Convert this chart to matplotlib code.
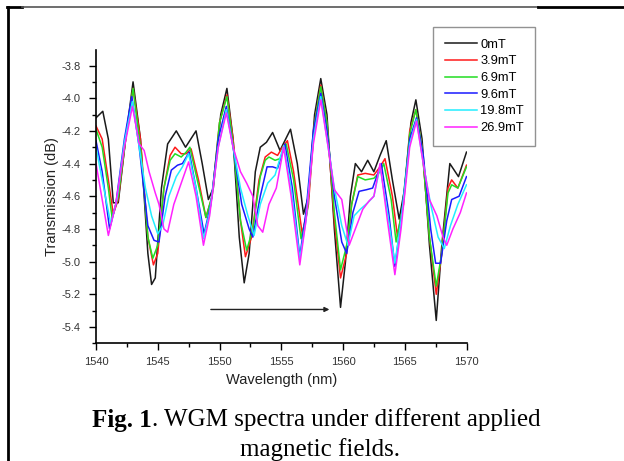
import numpy as np
import matplotlib.pyplot as plt
from matplotlib.lines import Line2D

# WGM spectra (wavelength in nm, transmission in dB)
wl_0 = [1540.0, 1540.55, 1541.0, 1541.4, 1541.8, 1542.4, 1543.0, 1543.6, 1544.2,
        1544.5, 1544.8, 1545.3, 1545.8, 1546.5, 1547.25, 1548.1, 1548.6, 1549.1,
        1549.5, 1550.1, 1550.6, 1551.1, 1551.6, 1552.0, 1552.4, 1552.9, 1553.3,
        1553.8, 1554.3, 1554.9, 1555.75, 1556.3, 1556.8, 1557.2, 1557.7, 1558.2,
        1558.7, 1559.3, 1559.8, 1560.2, 1560.6, 1561.0, 1561.5, 1562.0, 1562.5,
        1563.0, 1563.5, 1564.0, 1564.55, 1565.0, 1565.5, 1565.9, 1566.4, 1567.0,
        1567.55, 1568.0, 1568.65, 1569.35, 1570.0]
tr_0 = [-4.12, -4.08, -4.25, -4.64, -4.64, -4.25, -3.90, -4.25, -4.95,
        -5.14, -5.10, -4.55, -4.28, -4.20, -4.30, -4.20, -4.40, -4.62,
        -4.55, -4.10, -3.94, -4.25, -4.85, -5.13, -4.95, -4.45, -4.30,
        -4.27, -4.21, -4.32, -4.19, -4.40, -4.71, -4.60, -4.10, -3.88,
        -4.10, -4.80, -5.28, -5.00, -4.60, -4.40, -4.45, -4.38, -4.45,
        -4.35, -4.26, -4.50, -4.74, -4.55, -4.15, -4.01, -4.25, -4.90,
        -5.36, -4.90, -4.40, -4.48, -4.33]

wl_39 = [1540.0, 1540.5, 1541.0, 1541.4, 1541.8, 1542.4, 1543.0, 1543.6, 1544.2,
         1544.65, 1545.0, 1545.5, 1546.0, 1546.4, 1546.9, 1547.3, 1547.7, 1548.3,
         1548.9, 1549.4, 1550.0, 1550.6, 1551.1, 1551.7, 1552.1, 1552.6, 1553.2,
         1553.7, 1554.2, 1554.7, 1555.1, 1555.5, 1556.0, 1556.7, 1557.2, 1557.7,
         1558.2, 1558.7, 1559.3, 1559.8, 1560.3, 1560.7, 1561.2, 1561.8, 1562.5,
         1563.0, 1563.4, 1564.0, 1564.4, 1564.9, 1565.4, 1565.9, 1566.4, 1567.0,
         1567.55, 1568.0, 1568.5, 1568.8, 1569.3, 1570.0]
tr_39 = [-4.17, -4.25, -4.50, -4.71, -4.62, -4.25, -3.94, -4.25, -4.85,
         -5.02, -4.95, -4.55, -4.35, -4.30, -4.34, -4.34, -4.31, -4.50,
         -4.73, -4.60, -4.15, -3.98, -4.25, -4.75, -4.97, -4.85, -4.50,
         -4.36, -4.33, -4.35, -4.30, -4.26, -4.45, -4.83, -4.65, -4.15,
         -3.92, -4.15, -4.75, -5.10, -4.95, -4.65, -4.47, -4.46, -4.47,
         -4.42, -4.37, -4.60, -4.84, -4.65, -4.20, -4.07, -4.30, -4.85,
         -5.20, -4.95, -4.55, -4.50, -4.55, -4.41]

wl_69 = [1540.0, 1540.5, 1541.0, 1541.3, 1541.8, 1542.4, 1543.0, 1543.6, 1544.2,
         1544.6, 1545.0, 1545.5, 1546.0, 1546.4, 1546.9, 1547.3, 1547.6, 1548.2,
         1548.9, 1549.4, 1550.0, 1550.6, 1551.1, 1551.7, 1552.2, 1552.7, 1553.3,
         1553.7, 1554.0, 1554.5, 1554.9, 1555.4, 1556.0, 1556.6, 1557.1, 1557.7,
         1558.2, 1558.7, 1559.3, 1559.8, 1560.3, 1560.7, 1561.2, 1561.8, 1562.5,
         1563.0, 1563.3, 1563.9, 1564.3, 1564.8, 1565.4, 1565.9, 1566.4, 1567.0,
         1567.55, 1568.0, 1568.5, 1568.8, 1569.3, 1570.0]
tr_69 = [-4.19, -4.30, -4.55, -4.73, -4.60, -4.25, -3.94, -4.30, -4.85,
         -4.98, -4.90, -4.55, -4.38, -4.34, -4.36, -4.33, -4.30, -4.50,
         -4.73, -4.60, -4.15, -3.99, -4.28, -4.75, -4.93, -4.80, -4.48,
         -4.38, -4.36, -4.38, -4.37, -4.28, -4.50, -4.86, -4.70, -4.15,
         -3.93, -4.15, -4.70, -5.05, -4.90, -4.65, -4.48, -4.50, -4.49,
         -4.45, -4.40, -4.62, -4.88, -4.68, -4.22, -4.07, -4.30, -4.85,
         -5.15, -4.95, -4.58, -4.53, -4.55, -4.42]

wl_96 = [1540.0, 1540.5, 1541.1, 1541.6, 1542.3, 1542.9, 1543.5, 1544.2, 1544.7,
         1545.1, 1545.6, 1546.1, 1546.6, 1547.0, 1547.55, 1548.1, 1548.75, 1549.3,
         1549.9, 1550.55, 1551.1, 1551.8, 1552.4, 1552.7, 1553.3, 1553.85, 1554.3,
         1554.7, 1555.3, 1555.9, 1556.5, 1557.0, 1557.6, 1558.2, 1558.7, 1559.3,
         1559.9, 1560.3, 1560.8, 1561.3, 1561.9, 1562.4, 1563.1, 1563.7, 1564.2,
         1564.7, 1565.4, 1565.95, 1566.5, 1567.1, 1567.5, 1567.9, 1568.4, 1568.8,
         1569.4, 1570.0]
tr_96 = [-4.26, -4.45, -4.80, -4.65, -4.25, -3.99, -4.30, -4.78, -4.87,
         -4.88, -4.60, -4.44, -4.41, -4.40, -4.33, -4.55, -4.83, -4.65,
         -4.25, -4.05, -4.30, -4.65, -4.80, -4.85, -4.60, -4.42, -4.42,
         -4.43, -4.28, -4.55, -4.97, -4.70, -4.20, -3.97, -4.20, -4.60,
         -4.88, -4.95, -4.70, -4.57, -4.56, -4.55, -4.40, -4.70, -5.03,
         -4.75, -4.25, -4.12, -4.35, -4.80, -5.01, -5.01, -4.75, -4.62,
         -4.60, -4.48]

wl_198 = [1540.0, 1540.5, 1541.2, 1541.7, 1542.3, 1542.95, 1543.5, 1544.0, 1544.5,
          1545.0, 1545.4, 1545.9, 1546.5, 1547.0, 1547.5, 1548.1, 1548.7, 1549.2,
          1549.9, 1550.55, 1551.1, 1551.7, 1552.3, 1552.8, 1553.3, 1553.9, 1554.5,
          1555.2, 1555.8, 1556.5, 1557.0, 1557.6, 1558.2, 1558.7, 1559.3, 1559.9,
          1560.4, 1560.9, 1561.4, 1562.0, 1562.5, 1563.0, 1563.6, 1564.2, 1564.7,
          1565.4, 1565.95, 1566.5, 1567.1, 1567.7, 1568.2, 1568.7, 1569.3, 1570.0]
tr_198 = [-4.30, -4.50, -4.77, -4.62, -4.27, -4.02, -4.30, -4.55, -4.72,
          -4.83, -4.78, -4.60, -4.48, -4.42, -4.34, -4.55, -4.86, -4.70,
          -4.30, -4.07, -4.30, -4.55, -4.72, -4.84, -4.65, -4.52, -4.47,
          -4.29, -4.55, -4.98, -4.75, -4.25, -3.99, -4.25, -4.55, -4.78,
          -4.90, -4.72, -4.68, -4.64, -4.60, -4.42, -4.70, -5.01, -4.75,
          -4.28, -4.13, -4.40, -4.65, -4.85, -4.92, -4.78, -4.65, -4.53]

wl_269 = [1540.0, 1540.5, 1541.0, 1541.6, 1542.3, 1542.95, 1543.5, 1543.9, 1544.3,
          1544.8, 1545.1, 1545.5, 1545.8, 1546.3, 1546.9, 1547.5, 1548.1, 1548.7,
          1549.2, 1549.9, 1550.55, 1551.1, 1551.7, 1552.2, 1552.7, 1553.1, 1553.5,
          1554.0, 1554.6, 1555.2, 1555.8, 1556.5, 1557.0, 1557.6, 1558.2, 1558.8,
          1559.3, 1559.9, 1560.5, 1561.0, 1561.6, 1562.1, 1562.5, 1563.0, 1563.6,
          1564.2, 1564.7, 1565.4, 1565.95, 1566.5, 1567.0, 1567.6, 1568.1, 1568.4,
          1568.9, 1569.5, 1570.0]
tr_269 = [-4.40, -4.62, -4.84, -4.65, -4.30, -4.05, -4.28, -4.32, -4.45,
          -4.58, -4.65, -4.80, -4.82, -4.65, -4.52, -4.39, -4.60, -4.90,
          -4.72, -4.30, -4.09, -4.30, -4.45, -4.52, -4.60, -4.78, -4.82,
          -4.65, -4.55, -4.30, -4.60, -5.02, -4.75, -4.28, -4.01, -4.30,
          -4.56, -4.62, -4.90, -4.80, -4.68, -4.63, -4.60, -4.40, -4.75,
          -5.08, -4.80, -4.30, -4.14, -4.40, -4.62, -4.72, -4.85, -4.90,
          -4.80, -4.70, -4.58]

labels = ['0mT', '3.9mT', '6.9mT', '9.6mT', '19.8mT', '26.9mT']
colors = ['#1a1a1a', '#ff1a1a', '#22dd22', '#1a1aff', '#22eeff', '#ff22ff']
series = [(wl_0, tr_0), (wl_39, tr_39), (wl_69, tr_69),
          (wl_96, tr_96), (wl_198, tr_198), (wl_269, tr_269)]

plt.rcParams['font.family'] = ['Liberation Sans', 'DejaVu Sans']

fig = plt.figure(figsize=(6.24, 4.61), dpi=100)
ax = fig.add_axes([96 / 624, 1 - 343.3 / 461, 370.5 / 624, 293.3 / 461])

for (wl, tr), lab, col in zip(series, labels, colors):
    ax.plot(wl, tr, color=col, linewidth=1.1, label=lab,
            solid_joinstyle='round')

ax.set_xlim(1540, 1570)
ax.set_ylim(-5.5, -3.705)
ax.set_xticks(np.arange(1540, 1571, 5))
ax.set_xticks(np.arange(1540, 1571, 2.5), minor=True)
ax.set_yticks(np.arange(-5.4, -3.79, 0.2))
ax.set_yticks(np.arange(-5.5, -3.7, 0.1), minor=True)
ax.yaxis.set_major_formatter(plt.FormatStrFormatter('%.1f'))
ax.tick_params(which='major', direction='out', length=5, width=1,
               labelsize=8, labelcolor='#333333')
ax.tick_params(which='minor', direction='out', length=3, width=1)
ax.tick_params(axis='y', pad=6)
ax.tick_params(axis='x', pad=5)
for side in ['top', 'right']:
    ax.spines[side].set_visible(False)
for side in ['left', 'bottom']:
    ax.spines[side].set_linewidth(1.2)

ax.set_xlabel('Wavelength (nm)', fontsize=10.5, color='#222222')
ax.set_ylabel('Transmission (dB)', fontsize=10.5, color='#222222')
ax.xaxis.set_label_coords(0.5, -(380 - 343.3) / 293.3)
ax.yaxis.set_label_coords(-(96 - 52) / 370.5, 0.5)
ax.xaxis.label.set_va('center')
ax.yaxis.label.set_va('center')

# arrow marking the shift
ax.annotate('', xy=(1558.9, -5.293), xytext=(1549.3, -5.293),
            arrowprops=dict(arrowstyle='-|>', color='#222222', lw=1.0,
                            mutation_scale=7, shrinkA=0, shrinkB=0))

leg = fig.legend(loc='upper left', bbox_to_anchor=(433 / 624, 1 - 27 / 461),
                 borderaxespad=0, frameon=True, fancybox=False, fontsize=9.3,
                 handlelength=2.5, handletextpad=0.25, labelspacing=0.36,
                 borderpad=0.9)
leg.get_frame().set_edgecolor('#777777')
leg.get_frame().set_linewidth(1.0)

# caption
cap_y = 1 - 420 / 461
t1 = fig.text(92 / 624, cap_y, 'Fig. 1', fontsize=18, fontweight='bold',
              family='Liberation Serif', va='center', ha='left')
fig.canvas.draw()
bb = t1.get_window_extent()
fig.text(bb.x1 / 624, cap_y, '. WGM spectra under different applied',
         fontsize=18, family='Liberation Serif', va='center', ha='left')
fig.text(320 / 624, 1 - 450 / 461, 'magnetic fields.', fontsize=18,
         family='Liberation Serif', va='center', ha='center')

# page frame lines
fig.add_artist(Line2D([7.5 / 624, 7.5 / 624], [0, 1 - 7 / 461],
                      color='black', lw=2, transform=fig.transFigure))
fig.add_artist(Line2D([7 / 624, 22 / 624], [1 - 7.5 / 461, 1 - 7.5 / 461],
                      color='black', lw=2, transform=fig.transFigure))
fig.add_artist(Line2D([22 / 624, 538 / 624], [1 - 7.5 / 461, 1 - 7.5 / 461],
                      color='#555555', lw=1.2, transform=fig.transFigure))
fig.add_artist(Line2D([538 / 624, 1], [1 - 7.5 / 461, 1 - 7.5 / 461],
                      color='black', lw=2, transform=fig.transFigure))

plt.savefig('out.png', dpi=100)
plt.close()
